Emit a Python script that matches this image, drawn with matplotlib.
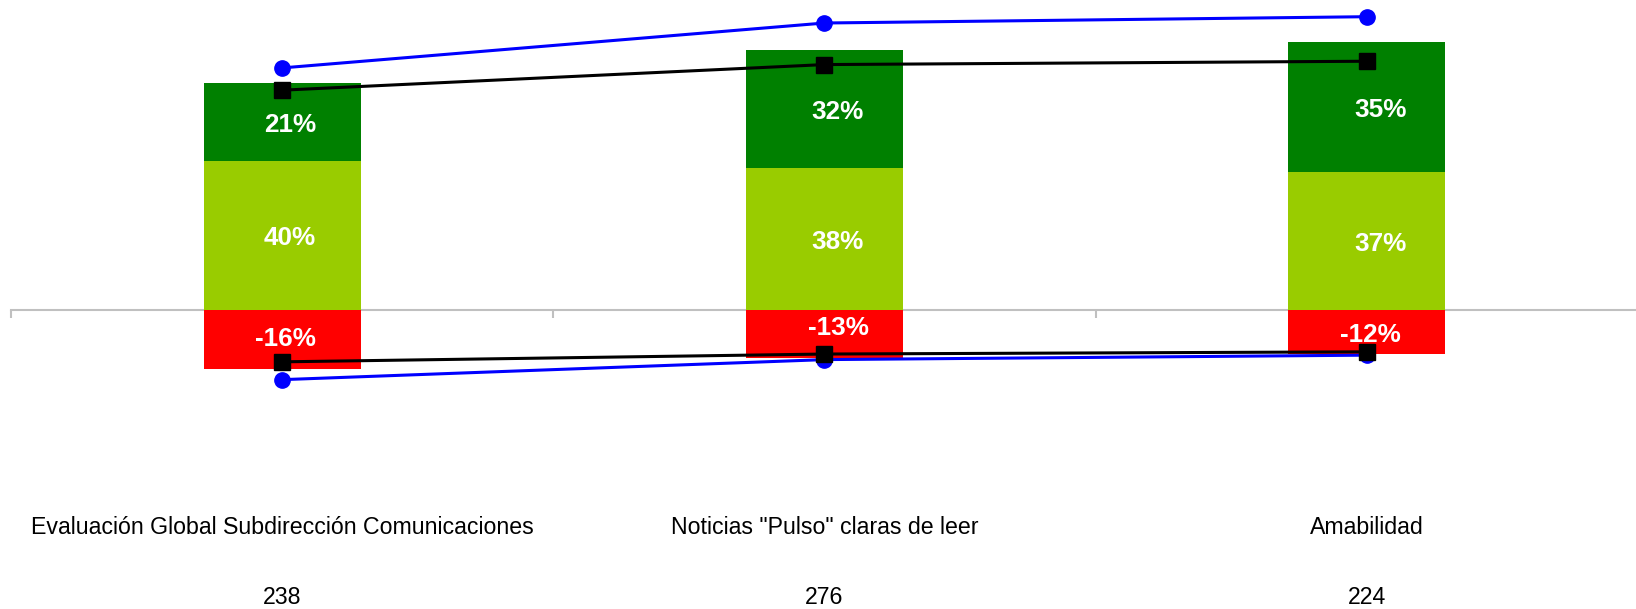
import matplotlib.pyplot as plt
import matplotlib.transforms as mtransforms

categories = ['Evaluación Global Subdirección Comunicaciones',
              'Noticias "Pulso" claras de leer',
              'Amabilidad']
counts = [238, 276, 224]
neg_pct = [-16, -13, -12]
mid_pct = [40, 38, 37]
top_pct = [21, 32, 35]
blue_hi = [65.1, 77.2, 78.9]
black_hi = [59.1, 66.0, 66.9]
black_lo = [-14.1, -12.0, -11.4]
blue_lo = [-18.9, -13.5, -12.3]

plt.rcParams['font.family'] = ['Liberation Sans', 'DejaVu Sans']

fig = plt.figure(figsize=(16.36, 6.09), dpi=100)
ax = fig.add_axes([11 / 1636, 0, 1627 / 1636, 1])

x = [i + 0.5 for i in range(len(categories))]
w = 0.29

ax.bar(x, neg_pct, width=w, color='#FF0000', zorder=2)
ax.bar(x, mid_pct, width=w, color='#99CC00', zorder=2)
ax.bar(x, top_pct, width=w, bottom=mid_pct, color='#008000', zorder=2)

# label nudges (pixels) to mimic the excel placement
pos_dx = [8, 13.5, 14]
neg_dx = [3.5, 14, 3.7]
neg_dy = [0, 6, -3]

def put(xv, yv, txt, dx, dy):
    ax.annotate(txt, (xv, yv), xytext=(dx * 0.72, dy * 0.72),
                textcoords='offset points', ha='center', va='center',
                color='white', fontsize=18.8, fontweight='bold', zorder=5)

for i in range(len(x)):
    put(x[i], neg_pct[i] / 2, '%d%%' % neg_pct[i], neg_dx[i], neg_dy[i])
    put(x[i], mid_pct[i] / 2, '%d%%' % mid_pct[i], pos_dx[i], -3)
    put(x[i], mid_pct[i] + top_pct[i] / 2, '%d%%' % top_pct[i], pos_dx[i], -3)

ax.plot(x, blue_hi, color='#0000FF', lw=2.2, marker='o', ms=11, zorder=3)
ax.plot(x, blue_lo, color='#0000FF', lw=2.2, marker='o', ms=11, zorder=3)
ax.plot(x, black_hi, color='black', lw=2.2, marker='s', ms=11, zorder=4)
ax.plot(x, black_lo, color='black', lw=2.2, marker='s', ms=11, zorder=4)

ax.set_xlim(0, 3)
ax.set_ylim(-80.7, 83.4)

for s in ['top', 'right', 'left']:
    ax.spines[s].set_visible(False)
ax.spines['bottom'].set_position(('data', 0))
ax.spines['bottom'].set_color('#C0C0C0')
ax.spines['bottom'].set_linewidth(1.5)
ax.spines['bottom'].set_zorder(1)
ax.set_xticks([0, 1, 2, 3])
ax.set_xticklabels([])
ax.tick_params(axis='x', direction='out', length=5.5, width=1.5, color='#C0C0C0')
ax.set_yticks([])

trans = mtransforms.blended_transform_factory(ax.transData, ax.transAxes)
for i in range(len(x)):
    ax.text(x[i], 0.1346, categories[i], transform=trans, ha='center',
            va='center', fontsize=16.7, color='black')
    ax.text(x[i], 0.0197, str(counts[i]), transform=trans, ha='center',
            va='center', fontsize=16.7, color='black')

fig.savefig('out.png', dpi=100)
